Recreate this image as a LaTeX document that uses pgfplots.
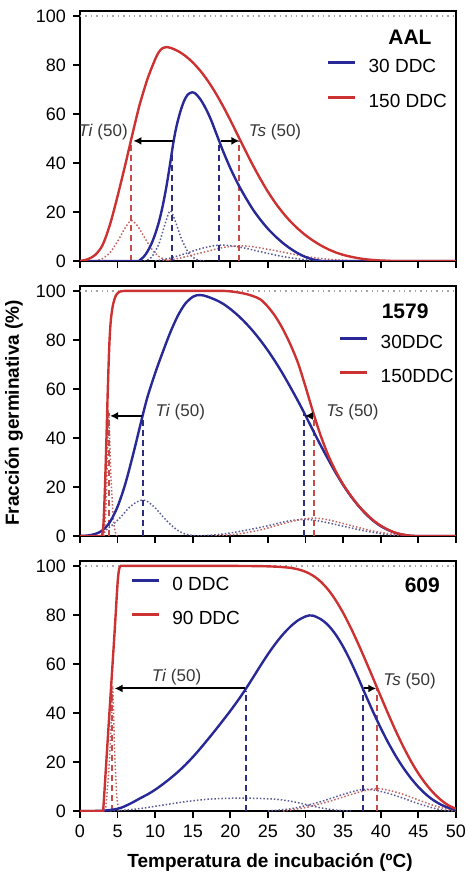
\documentclass[border=0pt]{standalone}
\usepackage{fontspec}
\setmainfont{Liberation Sans}
\usepackage{pgfplots}
\pgfplotsset{compat=1.18}
\usetikzlibrary{arrows.meta}
\definecolor{cblue}{RGB}{40,40,150}
\definecolor{cred}{RGB}{205,50,50}
\definecolor{cbluedash}{RGB}{45,45,125}
\definecolor{creddash}{RGB}{200,75,75}
\definecolor{cbluedot}{RGB}{90,90,150}
\definecolor{creddot}{RGB}{195,100,100}
\definecolor{ctxt}{RGB}{55,55,55}
\tikzset{
  lbl/.style={text=ctxt, font=\fontsize{8.5}{10}\selectfont, inner sep=0pt},
  ttl/.style={font=\bfseries\fontsize{10.5}{12}\selectfont, inner sep=0pt},
}
\pgfplotsset{
  panel/.style={
    scale only axis, width=188pt, height=125pt,
    anchor=south west,
    xmin=0, xmax=50, ymin=0, ymax=102,
    xtick={0,5,...,50}, ytick={0,20,...,100},
    tick align=outside, tick pos=left, major tick length=3.5pt,
    minor tick num=0,
    tick style={black, line width=0.9pt},
    axis line style={black, line width=0.9pt},
    tick label style={font=\fontsize{9}{10}\selectfont},
    /pgf/number format/assume math mode=true,
    clip mode=individual,
    legend style={draw=none, fill=none, inner sep=0pt, outer sep=0pt,
      row sep=8.5pt, column sep=6pt, font=\fontsize{9.5}{11}\selectfont,
      nodes={inner sep=0pt, text height=6.8pt, text depth=1.8pt},
      cells={anchor=west}},
    legend image code/.code={\draw[#1, line width=1.5pt] (0pt,2.5pt) -- (13.5pt,2.5pt);},
  },
  mainc/.style={line width=1.2pt, smooth, line join=round},
  dotc/.style={line width=0.75pt, densely dotted, smooth, forget plot},
  vdash/.style={line width=1pt, dash pattern=on 3pt off 2pt, forget plot},
  arr/.style={black, line width=1pt, -{Latex[length=4pt,width=4pt]}, forget plot},
  ref100/.style={gray!70, dotted, line width=0.7pt, forget plot},
}
\begin{document}
\begin{tikzpicture}
\path[use as bounding box] (-40pt,-307.5pt) rectangle (194pt,130.5pt);

% ---------------- Panel 1: AAL ----------------
\begin{axis}[panel, at={(0pt,0pt)}, xticklabels={},
  legend style={at={(axis cs:32.8,82.3)}, anchor=north west}]
\addplot[ref100] coordinates {(0,100)(50,100)};
\addplot[dotc, creddot] coordinates {(2,0)(3,1)(4,3.5)(5,8)(6,13.5)(6.8,16.5)(7.6,14.5)(8.5,10)(9.5,5)(10.5,1.8)(11.5,0.4)(12.5,0)};
\addplot[dotc, cbluedot] coordinates {(8.5,0)(9.5,1.5)(10.5,7)(11.3,15)(12,20.5)(12.7,16)(13.5,9)(14.5,3)(15.5,0.6)(16.5,0)};
\addplot[dotc, cbluedot] coordinates {(10,0)(12,1.2)(14,3)(16,5)(18.5,6.5)(21,5.8)(24,3.8)(27,1.8)(30,0.5)(32,0)};
\addplot[dotc, creddot] coordinates {(11,0)(13,1)(15,2.5)(17,4)(19,5.5)(21.2,6.2)(23,5.8)(26,4.2)(29,2.4)(32,1)(35,0.3)(37,0)};
\addplot[vdash, creddash] coordinates {(6.8,0)(6.8,49)};
\addplot[vdash, cbluedash] coordinates {(12.2,0)(12.2,44)};
\addplot[vdash, cbluedash] coordinates {(18.5,0)(18.5,49)};
\addplot[vdash, creddash] coordinates {(21.2,0)(21.2,49)};
\addplot[mainc, cblue] coordinates {(0,0)(7.5,0)(8,0.5)(8.5,1.8)(9,4)(9.5,7)(10,11)(10.5,16)(11,22.5)(11.5,30.5)(12,40)(12.4,48)(12.8,54.5)(13.3,60.5)(13.8,65)(14.3,67.8)(14.9,68.8)(15.4,68.2)(16,66)(16.5,63.5)(17,60.5)(17.5,57)(18,53)(18.5,49)(19,45)(20,37.8)(21,31.5)(22,26)(23,21)(24,16.8)(25,13.1)(26,10)(27,7.3)(28,5)(29,3.1)(30,1.6)(31,0.6)(32,0.1)(33,0)(50,0)};
\addlegendentry{30 DDC}
\addplot[mainc, cred] coordinates {(0,0)(1,0.7)(2,2.4)(3,6.5)(4,15)(5,26.5)(6,39)(6.8,49.5)(7.5,58.5)(8,64.5)(9,74.5)(10,82.3)(10.5,85.3)(11,86.9)(11.5,87.3)(12,87)(13,85.7)(14,83.7)(15,81)(16,77.6)(17,73.5)(18,68.7)(19,63.3)(20,57.4)(21,51.2)(22,45)(23,39)(24,33.4)(25,28.2)(26,23.6)(27,19.6)(28,16.1)(29,13.1)(30,10.5)(31,8.3)(32,6.4)(33,4.8)(34,3.5)(35,2.5)(36,1.75)(37,1.15)(38,0.7)(39,0.4)(40,0.2)(41,0.08)(42,0)(50,0)};
\addlegendentry{150 DDC}
\addplot[arr] coordinates {(12.4,49)(7.1,49)};
\addplot[arr] coordinates {(18.7,49)(21.2,49)};
\node[lbl, anchor=east] at (axis cs:6.4,52.5) {\textit{Ti} (50)};
\node[lbl, anchor=west] at (axis cs:22.4,52.5) {\textit{Ts} (50)};
\node[ttl, anchor=east] at (axis cs:46.8,91.4) {AAL};
\end{axis}

% ---------------- Panel 2: 1579 ----------------
\begin{axis}[panel, at={(0pt,-137.5pt)}, xticklabels={},
  legend style={at={(axis cs:34.4,82)}, anchor=north west}]
\addplot[ref100] coordinates {(0,100)(50,100)};
\addplot[dotc, cbluedot] coordinates {(3,0)(3.5,2.5)(4.5,5)(5.5,8)(6.5,11.5)(7.5,13.8)(8.3,14.7)(9,14)(10,11.5)(11,8)(12,4.8)(13,2.3)(14,0.8)(15,0.2)(16,0)};
\addplot[dotc, cbluedot] coordinates {(16,0)(19,0.8)(22,2.3)(25,4.2)(27.5,6)(29.8,6.8)(32,6)(35,4)(38,2)(41,0.5)(43,0)};
\addplot[dotc, creddot] coordinates {(18,0)(21,0.8)(24,2.5)(27,5)(29,6.5)(31,7.3)(33,6.6)(36,4.3)(39,2)(42,0.5)(44,0)};
\addplot[dotc, creddot] coordinates {(3.2,0)(3.5,15)(3.8,50)(4.1,25)(4.5,5)(4.9,0)};
\addplot[vdash, creddash] coordinates {(3.8,0)(3.8,50)};
\addplot[vdash, cbluedash] coordinates {(8.4,0)(8.4,48)};
\addplot[vdash, cbluedash] coordinates {(29.8,0)(29.8,50)};
\addplot[vdash, creddash] coordinates {(31.1,0)(31.1,49)};
\addplot[mainc, cblue] coordinates {(0,0)(1,0.2)(2,0.8)(3,2.3)(4,5.8)(5,12)(6,21)(7,32.5)(8,45)(8.4,50)(9,57)(10,66.5)(11,75)(12,83)(13,89.8)(14,94.8)(15,97.6)(15.5,98.2)(16,98.3)(16.5,98.1)(17,97.6)(18,96.4)(19,94.8)(20,92.6)(21,90)(22,87)(23,83.6)(24,79.8)(25,75.6)(26,71)(27,66)(28,60.6)(29,55)(29.8,50.3)(31,43)(32,37)(33,31.3)(34,25.8)(35,20.8)(36,16.3)(37,12.4)(38,9)(39,6.2)(40,4)(41,2.4)(42,1.2)(43,0.5)(44,0.1)(45,0)(50,0)};
\addlegendentry{30DDC}
\addplot[mainc, cred] coordinates {(0,0)(2.5,0)(2.9,0)(3.1,4)(3.3,18)(3.5,38)(3.7,60)(3.9,78)(4.1,88)(4.4,94.5)(4.8,98.3)(5.3,99.7)(6,100)(8,100)(12,100)(16,100)(19,100)(20,99.8)(21,99.4)(22,98.8)(23,97.9)(24,96.5)(25,93.5)(26,89.5)(27,84.3)(28,78)(29,70.5)(30,60.8)(31,50.5)(32,41)(33,33)(34,26.5)(35,21)(36,16.5)(37,12.5)(38,9.2)(39,6.4)(40,4.2)(41,2.5)(42,1.3)(43,0.5)(44,0.1)(45,0)(50,0)};
\addlegendentry{150DDC}
\addplot[arr] coordinates {(8.2,49)(4.0,49)};
\addplot[arr] coordinates {(31.0,49)(29.9,49)};
\node[lbl, anchor=west] at (axis cs:10,50.7) {\textit{Ti} (50)};
\node[lbl, anchor=west] at (axis cs:32.7,50.7) {\textit{Ts} (50)};
\node[ttl, anchor=east] at (axis cs:46.4,91.5) {1579};
\end{axis}

% ---------------- Panel 3: 609 ----------------
\begin{axis}[panel, at={(0pt,-275pt)},
  legend style={at={(axis cs:6.7,95.5)}, anchor=north west}]
\addplot[ref100] coordinates {(0,100)(50,100)};
\addplot[dotc, cbluedot] coordinates {(4,0)(6,0.4)(8,1)(11,2.4)(14,3.8)(17,4.8)(20,5.2)(23,5.2)(26,4.8)(28,4)(30,2.7)(32,1.3)(34,0.4)(36,0)};
\addplot[dotc, cbluedot] coordinates {(25,0)(28,0.9)(30,2.2)(32,3.8)(34,5.8)(36,7.7)(37.6,8.8)(39,8.6)(41,7.2)(43,5.2)(45,3)(47,1.2)(48.5,0.2)(50,0)};
\addplot[dotc, creddot] coordinates {(27,0)(30,1.4)(33,3.8)(36,6.7)(38,8.4)(39.4,9.2)(41,8.5)(43,6.8)(45,4.5)(47,2.3)(49,0.6)(50,0.2)};
\addplot[dotc, creddot] coordinates {(3.4,0)(3.8,15)(4.1,32)(4.35,50)(4.6,25)(4.9,6)(5.2,0)};
\addplot[vdash, creddash] coordinates {(4.3,0)(4.3,49)};
\addplot[vdash, cbluedash] coordinates {(22.1,0)(22.1,49)};
\addplot[vdash, cbluedash] coordinates {(37.6,0)(37.6,50)};
\addplot[vdash, creddash] coordinates {(39.5,0)(39.5,50)};
\addplot[mainc, cblue] coordinates {(0,0)(3,0.1)(5,0.9)(6,2)(7,3.5)(8,5.2)(9,6.8)(10,8.7)(11,10.9)(12,13.3)(13,15.9)(14,18.8)(15,22)(16,25.5)(17,29.2)(18,33)(19,36.9)(20,40.9)(21,45.1)(22,49.6)(23,54.4)(24,59.3)(25,64)(26,68.3)(27,72.1)(28,75.3)(29,77.8)(30,79.4)(30.5,79.8)(31,79.7)(32,78.3)(33,75.8)(34,72)(35,67)(36,61)(37,54.3)(37.6,50)(38,47.2)(39,40.3)(40,33.8)(41,27.8)(42,22.4)(43,17.6)(44,13.4)(45,9.8)(46,6.8)(47,4.4)(48,2.6)(49,1.3)(50,0.5)};
\addlegendentry{0 DDC}
\addplot[mainc, cred] coordinates {(0,0)(2.6,0)(3.0,0)(3.1,1)(3.6,25)(4.1,49)(4.6,73)(5.0,93)(5.2,98.5)(5.4,100)(6,100)(8,100)(12,100)(16,100)(20,100)(24,99.9)(26,99.7)(27,99.5)(28,99.2)(29,98.6)(30,97.6)(31,96)(32,93.6)(33,90.3)(34,86)(35,80.8)(36,74.8)(37,68.2)(38,61.2)(39,54)(39.5,50.3)(40,46.7)(41,39.5)(42,32.6)(43,26.2)(44,20.4)(45,15.3)(46,11)(47,7.4)(48,4.5)(49,2.3)(50,0.9)};
\addlegendentry{90 DDC}
\addplot[arr] coordinates {(22,50)(4.6,50)};
\addplot[arr] coordinates {(37.8,50)(39.4,50)};
\node[lbl, anchor=west] at (axis cs:9.5,54.6) {\textit{Ti} (50)};
\node[lbl, anchor=west] at (axis cs:40.3,53) {\textit{Ts} (50)};
\node[ttl, anchor=east] at (axis cs:47.9,91.9) {609};
\end{axis}

\node[rotate=90, font=\bfseries\fontsize{9.5}{11}\selectfont, inner sep=0pt] at (-33pt,-76pt) {Fracción germinativa (\%)};
\node[font=\bfseries\fontsize{9.5}{11}\selectfont, inner sep=0pt] at (95pt,-300.5pt) {Temperatura de incubación (ºC)};
\end{tikzpicture}
\end{document}
